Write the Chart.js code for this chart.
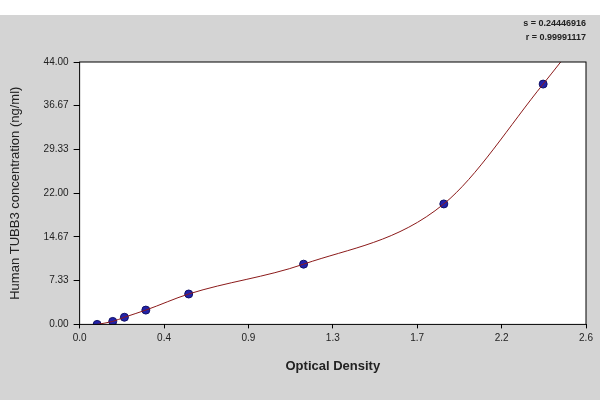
<!DOCTYPE html>
<html><head><meta charset="utf-8">
<script src="https://cdn.jsdelivr.net/npm/chart.js@4/dist/chart.umd.min.js"></script>
<style>
html,body{margin:0;padding:0;background:#fff;}
#wrap{position:absolute;left:0;top:15px;width:600px;height:385px;background:#d4d4d4;}
canvas{display:block;}
.stat{position:absolute;right:14px;font:bold 9px Arial,"Liberation Sans",sans-serif;color:#222;}
</style></head>
<body>
<div id="wrap"><canvas id="c" width="600" height="385"></canvas></div>
<div class="stat" style="top:18px">s = 0.24446916</div>
<div class="stat" style="top:32px">r = 0.99991117</div>
<script>
// Standard points
const odValues = [0.09, 0.17, 0.23, 0.34, 0.56, 1.15, 1.87, 2.38];
const concValues = [0.0, 0.5, 1.2, 2.4, 5.1, 10.1, 20.2, 40.3];
// Fitted curve, traced through the points up to the top edge
const curveX = [0.09, 0.17, 0.23, 0.34, 0.56, 1.15, 1.87, 2.38, 2.47];
const curveY = [0.0, 0.5, 1.2, 2.4, 5.1, 10.1, 20.2, 40.3, 44.0];
const xTicks = ['0.0', '0.4', '0.9', '1.3', '1.7', '2.2', '2.6'];
const yTicks = ['0.00', '7.33', '14.67', '22.00', '29.33', '36.67', '44.00'];

const font = { family: 'Arial, "Liberation Sans", sans-serif', size: 10 };

const framePlugin = {
  id: 'frame',
  beforeDraw(chart) {
    const { ctx, chartArea: a } = chart;
    ctx.save();
    ctx.fillStyle = '#fff';
    ctx.fillRect(a.left, a.top, a.right - a.left, a.bottom - a.top);
    ctx.restore();
  },
  afterDraw(chart) {
    const { ctx, chartArea: a } = chart;
    ctx.save();
    ctx.strokeStyle = '#000';
    ctx.lineWidth = 1;
    ctx.strokeRect(a.left, a.top, a.right - a.left, a.bottom - a.top);
    ctx.restore();
  }
};

new Chart(document.getElementById('c'), {
  type: 'scatter',
  data: {
    datasets: [{
      type: 'line',
      data: curveX.map((x, i) => ({ x, y: curveY[i] })),
      borderColor: '#8b1a1a',
      borderWidth: 1,
      pointRadius: 0,
      cubicInterpolationMode: 'monotone',
      clip: 0
    }, {
      data: odValues.map((x, i) => ({ x, y: concValues[i] })),
      backgroundColor: '#2222aa',
      borderColor: '#111166',
      pointRadius: 4
    }]
  },
  options: {
    responsive: false,
    animation: false,
    layout: { padding: { top: 47, right: 14, bottom: 22, left: 4 } },
    plugins: { legend: { display: false }, tooltip: { enabled: false } },
    scales: {
      x: {
        min: 0, max: 2.6,
        afterBuildTicks: s => { s.ticks = xTicks.map((t, i) => ({ value: i * 2.6 / 6 })); },
        ticks: { callback: (v, i) => xTicks[i], color: '#222', font, maxRotation: 0, padding: 4 },
        grid: { display: true, drawOnChartArea: false, tickLength: 4, color: '#000' },
        border: { display: false },
        title: { display: true, text: 'Optical Density', color: '#222',
          font: { family: font.family, size: 13, weight: 'bold' }, padding: { top: 10 } }
      },
      y: {
        min: 0, max: 44,
        afterBuildTicks: s => { s.ticks = yTicks.map((t, i) => ({ value: i * 44 / 6 })); },
        ticks: { callback: (v, i) => yTicks[i], color: '#222', font, padding: 5 },
        grid: { display: true, drawOnChartArea: false, tickLength: 6, color: '#000' },
        border: { display: false },
        title: { display: true, text: 'Human TUBB3 concentration (ng/ml)', color: '#222',
          font: { family: font.family, size: 13 }, padding: { bottom: 15 } }
      }
    }
  },
  plugins: [framePlugin]
});
</script>
</body></html>
